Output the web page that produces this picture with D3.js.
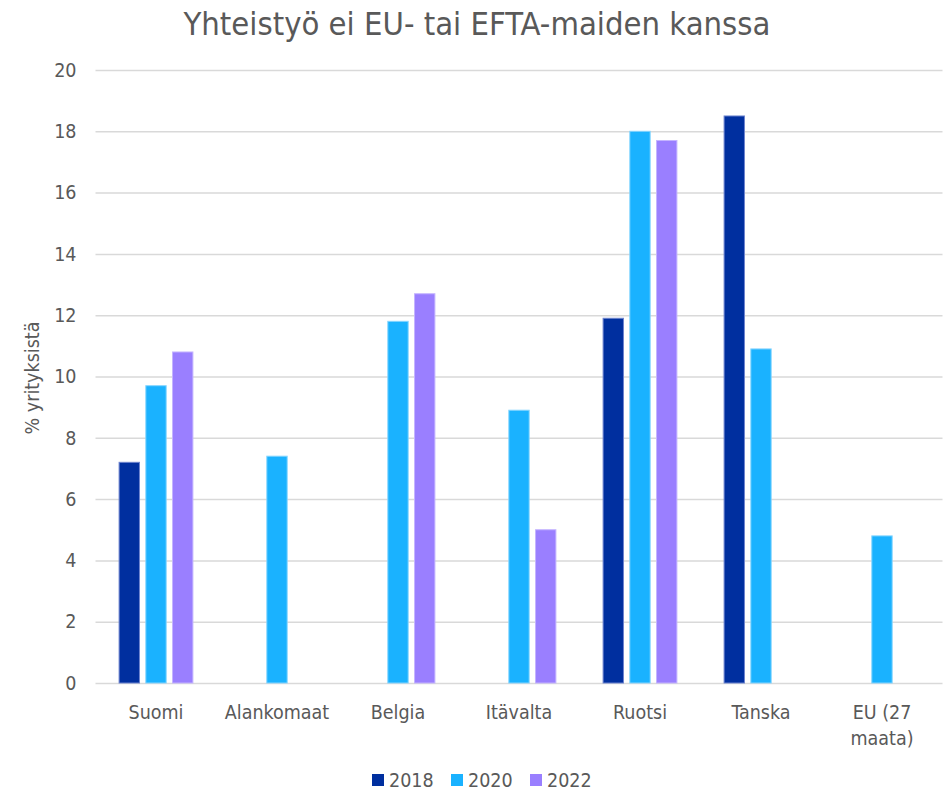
<!DOCTYPE html>
<html><head><meta charset="utf-8">
<script src="https://cdn.jsdelivr.net/npm/d3@7"></script>
<style>
body{margin:0;background:#fff;}
text{font-family:"DejaVu Sans Condensed","DejaVu Sans",sans-serif;fill:#595959;}
</style></head>
<body><svg id="c" width="948" height="793"></svg>
<script>
const categories = ["Suomi","Alankomaat","Belgia","Itävalta","Ruotsi","Tanska","EU (27 maata)"];
const seriesNames = ["2018","2020","2022"];
const values2018 = [7.2, null, null, null, 11.9, 18.5, null];
const values2020 = [9.7, 7.4, 11.8, 8.9, 18.0, 10.9, 4.8];
const values2022 = [10.8, null, 12.7, 5.0, 17.7, null, null];
const yTicks = [0,2,4,6,8,10,12,14,16,18,20];
const colors = ["#002f9f","#1ab2ff","#9a7fff"];
const strokes = ["#6d84cf","#86d5ff","#c4b4ff"];

const svg = d3.select("#c");
const m = {left:95.5, right:942.5, top:70, bottom:683};
const x0 = d3.scaleBand().domain(categories).range([m.left, m.right]).paddingInner(0).paddingOuter(0);
const x1 = d3.scaleBand().domain(seriesNames).range([x0.bandwidth()/2 - 37.4, x0.bandwidth()/2 + 37.4]).paddingInner(0.2).paddingOuter(0);
const y = d3.scaleLinear().domain([0,20]).range([m.bottom, m.top]);
const fs = "19.5px";

// gridlines
const grid = svg.append("g").attr("transform",`translate(${m.left},0)`)
  .call(d3.axisLeft(y).tickValues(yTicks).tickSize(-(m.right-m.left)).tickFormat(""));
grid.select(".domain").remove();
grid.selectAll("line").attr("stroke","#d9d9d9").attr("stroke-width",1.5);

// y tick labels
const yax = svg.append("g").attr("transform",`translate(${m.left},0)`)
  .call(d3.axisLeft(y).tickValues(yTicks).tickSize(0).tickPadding(19));
yax.select(".domain").remove();
yax.selectAll("text").style("font-size",fs).attr("fill","#595959");

// bars
const all = [values2018, values2020, values2022];
const data = [];
categories.forEach((c,i)=>seriesNames.forEach((s,j)=>{ if(all[j][i]!=null) data.push({c,s,j,v:all[j][i]}); }));
svg.append("g").selectAll("rect").data(data).join("rect")
  .attr("x",d=>x0(d.c)+x1(d.s)+0.5)
  .attr("width",x1.bandwidth()-1)
  .attr("y",d=>y(d.v))
  .attr("height",d=>y(0)-y(d.v))
  .attr("fill",d=>colors[d.j])
  .attr("stroke",d=>strokes[d.j]).attr("stroke-width",1);

// x labels
const xl = svg.append("g");
categories.forEach(c=>{
  const cx = x0(c)+x0.bandwidth()/2;
  const lines = c==="EU (27 maata)" ? ["EU (27","maata)"] : [c];
  lines.forEach((t,k)=>{
    xl.append("text").attr("x",cx).attr("y",719+k*26).attr("text-anchor","middle")
      .style("font-size",fs).text(t);
  });
});

// y title
svg.append("text").attr("transform","translate(39,378) rotate(-90)").attr("text-anchor","middle")
  .style("font-size",fs).text("% yrityksistä");

// title
svg.append("text").attr("x",477).attr("y",35).attr("text-anchor","middle")
  .style("font-size","32.5px").text("Yhteistyö ei EU- tai EFTA-maiden kanssa");

// legend
const lg = svg.append("g");
const lx = [372, 451, 530];
seriesNames.forEach((s,j)=>{
  lg.append("rect").attr("x",lx[j]).attr("y",774).attr("width",12).attr("height",12).attr("fill",colors[j]);
  lg.append("text").attr("x",lx[j]+17).attr("y",787).style("font-size",fs).text(s);
});
</script></body></html>
